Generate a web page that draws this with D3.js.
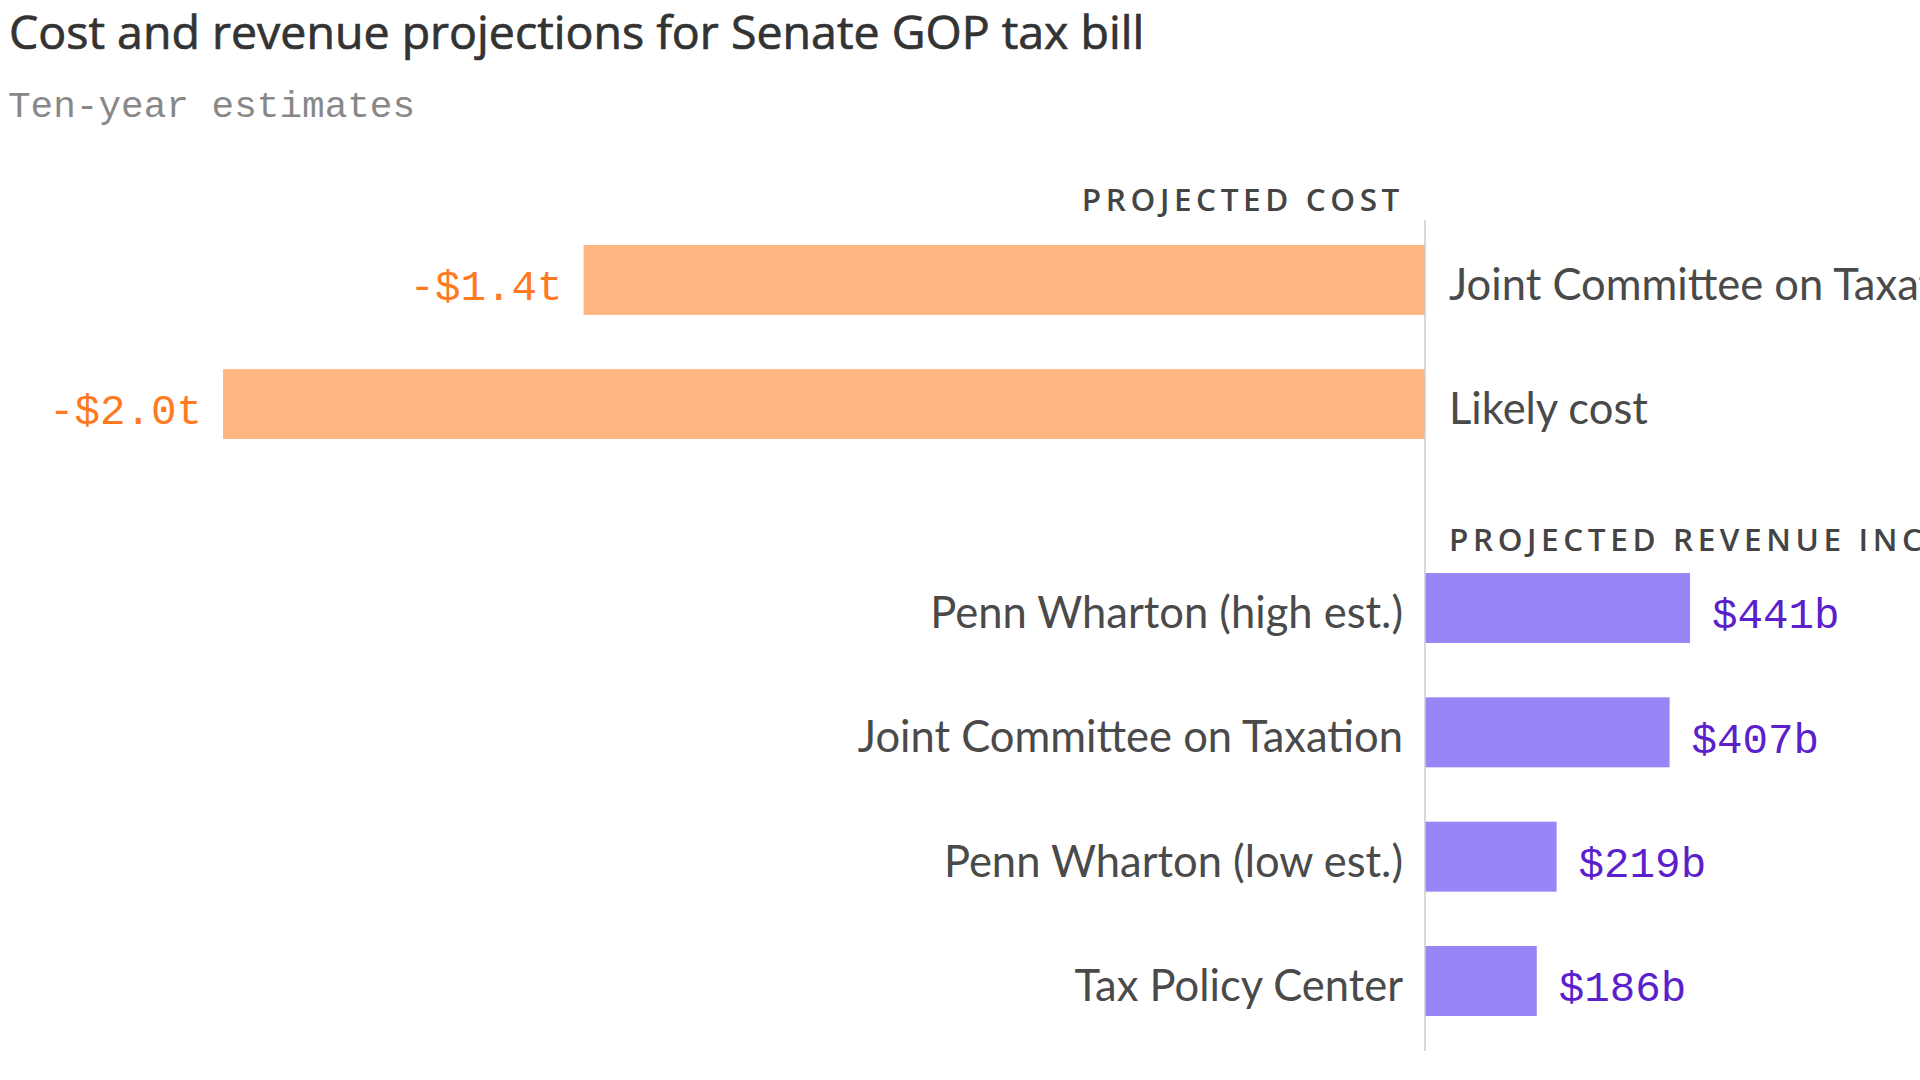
<!DOCTYPE html>
<html>
<head>
<meta charset="utf-8">
<script src="https://cdn.jsdelivr.net/npm/d3@7"></script>
<style>
  body { margin: 0; background: #fff; overflow: hidden; }
  svg { display: block; }
</style>
</head>
<body>
<div id="chart"></div>
<script>
const width = 1920;
const height = 1080;

// data
const costNames = ["Joint Committee on Taxation", "Likely cost"];
const costValues = [-1.4, -2.0];
const costLabels = ["-$1.4t", "-$2.0t"];

const revenueNames = ["Penn Wharton (high est.)", "Joint Committee on Taxation", "Penn Wharton (low est.)", "Tax Policy Center"];
const revenueValues = [0.441, 0.407, 0.219, 0.186];
const revenueLabels = ["$441b", "$407b", "$219b", "$186b"];

const sans = "Lato, 'Open Sans', sans-serif";
const mono = "'Liberation Mono', 'DejaVu Sans Mono', monospace";

const svg = d3.select("#chart").append("svg")
  .attr("width", width)
  .attr("height", height);

// title + subtitle
svg.append("text")
  .attr("x", 9)
  .attr("y", 49)
  .attr("fill", "#333")
  .attr("stroke", "#333")
  .attr("stroke-width", 0.7)
  .attr("font-family", "'Open Sans', sans-serif")
  .attr("font-size", "46.5px")
  .text("Cost and revenue projections for Senate GOP tax bill");

svg.append("text")
  .attr("x", 8)
  .attr("y", 117)
  .attr("fill", "#888")
  .attr("font-family", mono)
  .attr("font-size", "37.7px")
  .text("Ten-year estimates");

// scales
const x = d3.scaleLinear()
  .domain([-2, 0])
  .range([223, 1425]);

const costY = d3.scaleBand()
  .domain(costNames)
  .range([245, 439])
  .paddingInner(0.437);

const revY = d3.scaleBand()
  .domain(revenueNames)
  .range([573, 1016])
  .paddingInner(0.437);

const costData = costNames.map((name, i) => ({name, value: costValues[i], label: costLabels[i]}));
const revData = revenueNames.map((name, i) => ({name, value: revenueValues[i], label: revenueLabels[i]}));

// section headers
const header = (sel) => sel
  .attr("fill", "#444")
  .attr("font-family", "'Open Sans', sans-serif")
  .attr("font-weight", 600)
  .attr("font-size", "31.5px")
  .attr("letter-spacing", "4.6px");

svg.append("text")
  .attr("x", x(0) - 21)
  .attr("y", 211)
  .attr("text-anchor", "end")
  .call(header)
  .text("PROJECTED COST");

svg.append("text")
  .attr("x", x(0) + 24)
  .attr("y", 551)
  .call(header)
  .text("PROJECTED REVENUE INCREASE");

// cost bars
const cost = svg.append("g").attr("class", "cost");

cost.selectAll("rect")
  .data(costData)
  .join("rect")
  .attr("x", d => x(d.value))
  .attr("y", d => costY(d.name))
  .attr("width", d => x(0) - x(d.value))
  .attr("height", costY.bandwidth())
  .attr("fill", "#ffb680");

cost.selectAll("text.value-label")
  .data(costData)
  .join("text")
  .attr("class", "value-label")
  .attr("x", d => x(d.value) - 21)
  .attr("y", d => costY(d.name) + costY.bandwidth() / 2)
  .attr("dy", "0.48em")
  .attr("text-anchor", "end")
  .attr("fill", "#ff7a1f")
  .attr("font-family", mono)
  .attr("font-size", "42.5px")
  .text(d => d.label);

cost.selectAll("text.name-label")
  .data(costData)
  .join("text")
  .attr("class", "name-label")
  .attr("x", x(0) + 24)
  .attr("y", d => costY(d.name) + costY.bandwidth() / 2)
  .attr("dy", "0.46em")
  .attr("fill", "#4a4a4a")
  .attr("font-family", sans)
  .attr("font-size", "43.5px")
  .text(d => d.name);

// revenue bars
const rev = svg.append("g").attr("class", "revenue");

rev.selectAll("rect")
  .data(revData)
  .join("rect")
  .attr("x", x(0))
  .attr("y", d => revY(d.name))
  .attr("width", d => x(d.value) - x(0))
  .attr("height", revY.bandwidth())
  .attr("fill", "#9886f7");

rev.selectAll("text.value-label")
  .data(revData)
  .join("text")
  .attr("class", "value-label")
  .attr("x", d => x(d.value) + 22)
  .attr("y", d => revY(d.name) + revY.bandwidth() / 2)
  .attr("dy", "0.48em")
  .attr("fill", "#5b1fcc")
  .attr("font-family", mono)
  .attr("font-size", "42.5px")
  .text(d => d.label);

rev.selectAll("text.name-label")
  .data(revData)
  .join("text")
  .attr("class", "name-label")
  .attr("x", x(0) - 22)
  .attr("y", d => revY(d.name) + revY.bandwidth() / 2)
  .attr("dy", "0.46em")
  .attr("text-anchor", "end")
  .attr("fill", "#4a4a4a")
  .attr("font-family", sans)
  .attr("font-size", "43.5px")
  .text(d => d.name);

// zero line
svg.append("line")
  .attr("x1", x(0)).attr("x2", x(0))
  .attr("y1", 220).attr("y2", 1051)
  .attr("stroke", "#ccc")
  .attr("stroke-width", 1.5);
</script>
</body>
</html>
